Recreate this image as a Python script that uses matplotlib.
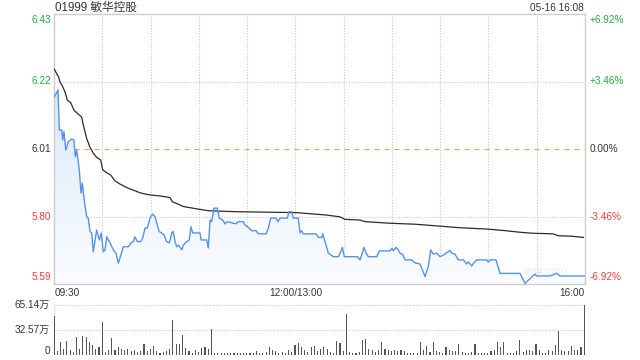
import matplotlib
matplotlib.use("Agg")
import matplotlib.pyplot as plt
import numpy as np
from matplotlib.patches import Polygon

plt.rcParams['font.family'] = ['Liberation Sans', 'Noto Sans CJK SC', 'DejaVu Sans']

# Datos (minutos desde 09:30, 12:00 y 13:00 coinciden en 150)
titulo = "01999 敏华控股"
fecha = "05-16 16:08"
cierre_previo = 6.01
precio_ticks = [6.43, 6.22, 6.01, 5.80, 5.59]
pct_ticks = ["+6.92%", "+3.46%", "0.00%", "-3.46%", "-6.92%"]
hora_labels = ["09:30", "12:00/13:00", "16:00"]

precio_min = [0, 2.5, 3.3, 4.8, 5.4, 6.2, 7.3, 8.9, 11.0, 12.4,
              13.2, 14.1, 15.7, 16.8, 17.6, 18.8, 20.3, 21.3, 22.4, 23.4,
              24.4, 26.5, 28.2, 29.4, 30.6, 31.7, 32.8, 34.8, 36.9, 38.5,
              40.0, 41.0, 43.1, 46.2, 47.9, 49.3, 50.3, 51.8, 53.9, 55.1,
              56.6, 58.0, 59.7, 61.3, 62.8, 63.8, 65.4, 66.9, 68.4, 70.0,
              71.7, 73.2, 74.1, 75.2, 76.3, 77.3, 78.3, 79.4, 80.4, 82.5,
              84.1, 85.1, 86.2, 90.7, 91.5, 94.9, 95.9, 97.0, 98.0, 99.4,
              101.5, 102.7, 104.8, 106.3, 107.7, 113.1, 114.5, 117.6, 118.7, 120.8,
              122.9, 125.5, 127.0, 131.8, 133.2, 134.7, 138.0, 139.2, 140.5, 145.0,
              146.1, 147.7, 148.7, 151.8, 152.9, 153.9, 154.9, 162.8, 164.3, 166.4,
              167.0, 168.4, 170.5, 173.6, 176.7, 178.2, 179.2, 180.4, 188.5, 190.2,
              191.6, 192.7, 193.9, 195.3, 200.6, 202.2, 208.8, 209.9, 210.9, 212.4,
              214.0, 215.0, 216.7, 218.2, 222.3, 224.4, 227.5, 230.6, 232.6, 234.1,
              235.7, 237.9, 239.9, 242.0, 244.1, 246.1, 247.2, 249.2, 251.3, 254.4,
              256.5, 257.5, 259.6, 260.6, 262.7, 268.9, 269.9, 271.0, 274.7, 277.2,
              289.6, 292.7, 294.8, 298.9, 300.0, 308.3, 312.4, 314.5, 330]
precio = [6.171, 6.194, 6.069, 6.069, 6.038, 6.064, 6.007, 6.033, 6.041, 6.038,
          5.986, 6.007, 5.945, 5.873, 5.904, 5.851, 5.799, 5.795, 5.753, 5.749,
          5.690, 5.758, 5.727, 5.749, 5.690, 5.696, 5.737, 5.718, 5.696, 5.686,
          5.655, 5.671, 5.706, 5.706, 5.718, 5.722, 5.737, 5.722, 5.722, 5.733,
          5.764, 5.764, 5.795, 5.808, 5.799, 5.780, 5.753, 5.749, 5.742, 5.722,
          5.718, 5.749, 5.753, 5.722, 5.706, 5.711, 5.705, 5.696, 5.711, 5.722,
          5.727, 5.768, 5.749, 5.749, 5.727, 5.727, 5.702, 5.789, 5.784, 5.826,
          5.826, 5.795, 5.789, 5.777, 5.784, 5.777, 5.784, 5.784, 5.774, 5.766,
          5.756, 5.756, 5.746, 5.746, 5.764, 5.795, 5.795, 5.784, 5.795, 5.795,
          5.815, 5.815, 5.795, 5.795, 5.749, 5.756, 5.746, 5.746, 5.735, 5.735,
          5.746, 5.722, 5.686, 5.675, 5.675, 5.690, 5.704, 5.675, 5.675, 5.665,
          5.686, 5.704, 5.687, 5.675, 5.675, 5.693, 5.693, 5.701, 5.693, 5.704,
          5.696, 5.686, 5.682, 5.665, 5.665, 5.656, 5.652, 5.613, 5.644, 5.696,
          5.683, 5.686, 5.675, 5.680, 5.687, 5.694, 5.686, 5.683, 5.665, 5.665,
          5.652, 5.659, 5.646, 5.654, 5.665, 5.665, 5.658, 5.665, 5.665, 5.623,
          5.623, 5.592, 5.602, 5.621, 5.615, 5.615, 5.623, 5.615, 5.615]

media_min = [0.2, 2.9, 3.7, 5.4, 6.8, 8.3, 10.4, 12.4, 14.5, 17.2,
             18.2, 20.3, 22.4, 24.4, 26.5, 29.0, 30.3, 32.8, 35.2, 37.9,
             41.0, 45.2, 50.3, 53.4, 56.6, 59.7, 65.9, 72.1, 73.5, 78.3,
             80.4, 89.7, 95.9, 112.5, 150.8, 168.4, 177.7, 180.9, 190.2, 193.3,
             208.8, 224.4, 239.9, 252.3, 268.9, 280.3, 289.6, 296.9, 310.3, 313.4,
             320.7, 329]
media = [6.258, 6.233, 6.219, 6.204, 6.188, 6.162, 6.154, 6.131, 6.121, 6.109,
         6.085, 6.043, 6.015, 5.997, 5.984, 5.976, 5.945, 5.936, 5.929, 5.911,
         5.901, 5.890, 5.880, 5.874, 5.870, 5.867, 5.864, 5.859, 5.846, 5.836,
         5.831, 5.823, 5.818, 5.815, 5.812, 5.805, 5.799, 5.791, 5.789, 5.784,
         5.779, 5.776, 5.770, 5.765, 5.761, 5.756, 5.751, 5.748, 5.746, 5.740,
         5.739, 5.735]

# Volumen (万), una barra cada 2 minutos
volumen = [50.8, 5, 17.3, 7.8, 18.6, 6.5, 4, 23.9, 7.8, 24.8,
           23.9, 17.3, 13, 7.8, 10.9, 43.4, 4, 6.5, 21.7, 6,
           10, 8, 7, 8, 5, 6, 4, 5, 14, 5,
           8, 12, 5, 3, 4, 5, 8, 45.6, 14.1, 14,
           26, 9, 5, 3, 6, 4, 9, 11, 8, 33.9,
           3, 2, 3, 2, 3, 2, 3, 2, 3, 2,
           3, 2, 3, 5, 3, 2, 4, 10, 7, 5,
           3, 4, 3, 7, 4, 13, 15, 10, 7, 4,
           10, 12, 5, 8, 10, 8, 4, 3, 18, 15,
           5, 53.4, 4, 3, 2, 4, 19, 21, 8, 7,
           4, 7, 17, 8, 7, 5, 6, 5, 6, 5,
           2, 2, 2, 3, 17, 6, 12, 4, 17, 5,
           4, 2, 10, 6, 5, 5, 14, 4, 3, 3,
           4, 14, 2, 2, 2, 2, 5, 6, 17, 10,
           17, 3, 3, 3, 5, 19, 4, 6, 7, 5,
           14, 6, 2, 3, 6, 5, 13, 31.7, 6, 5,
           5, 12, 6, 7, 11, 65.14]
vol_max = 65.14
vol_labels = ["65.14万", "32.57万", "0"]

verde = '#1fae3a'
rojo = '#f23c3c'
gris_txt = '#333333'
gris_grid = '#c8c8c8'

fig = plt.figure(figsize=(6.4, 3.6), dpi=100)
ax = fig.add_axes([54/640, 1-284/360, 531/640, 270/360])
axv = fig.add_axes([54/640, 1-355/360, 531/640, 50/360])

ax.set_xlim(0, 330)
ax.set_ylim(precio_ticks[-1], precio_ticks[0])

# Rejilla
for m in range(30, 330, 30):
    ax.axvline(m, color=gris_grid, lw=0.8, ls=(0, (1, 1.5)), zorder=1)
for p in [precio_ticks[1], precio_ticks[3]]:
    ax.axhline(p, color=gris_grid, lw=0.8, ls=(0, (1, 1.5)), zorder=1)
ax.axhline(cierre_previo, color='#f4a060', lw=0.9, ls=(0, (4, 4)), zorder=1)

# Relleno degradado bajo el precio
x = np.array(precio_min)
y = np.array(precio)
grad = np.linspace(0, 1, 256).reshape(-1, 1)
top = np.array([0.84, 0.90, 0.98])
bot = np.array([0.98, 0.99, 1.0])
img = top + (bot - top) * grad[:, :, None] ** 0.8
im = ax.imshow(img, extent=[0, 330, 5.59, 6.22], origin='upper', aspect='auto', zorder=2)
verts = np.vstack([[x[0], 5.59], np.column_stack([x, y]), [x[-1], 5.59]])
poly = Polygon(verts, closed=True, facecolor='none', edgecolor='none')
ax.add_patch(poly)
im.set_clip_path(poly)

ax.plot(precio_min, precio, color='#5592ea', lw=1.0, zorder=4)
ax.plot(media_min, media, color='#2b2b2b', lw=0.9, zorder=3)

for s in ax.spines.values():
    s.set_color('#cccccc')
    s.set_linewidth(1)
ax.set_xticks([])
ax.set_yticks([])

# Etiquetas de precio y porcentaje
colores = [verde, verde, gris_txt, rojo, rojo]
desp = [-6, 0, 0, 0, 7]
for p, pc, c, d in zip(precio_ticks, pct_ticks, colores, desp):
    ax.annotate(f"{p:.2f}", xy=(0, p), xycoords=('axes fraction', 'data'),
                xytext=(-2.2, d * 0.72), textcoords='offset points',
                ha='right', va='center', fontsize=7.2, color=c)
    ax.annotate(pc, xy=(1, p), xycoords=('axes fraction', 'data'),
                xytext=(3.6, d * 0.72), textcoords='offset points',
                ha='left', va='center', fontsize=7.2, color=c)

fig.text(55/640, 1-8/360, titulo, ha='left', va='center', fontsize=8.4, color=gris_txt)
fig.text(584/640, 1-8/360, fecha, ha='right', va='center', fontsize=7.2, color=gris_txt)

ty = 1-293/360
fig.text(55/640, ty, hora_labels[0], ha='left', va='center', fontsize=7.2, color=gris_txt)
fig.text(296/640, ty, hora_labels[1], ha='center', va='center', fontsize=7.2, color=gris_txt)
fig.text(585/640, ty, hora_labels[2], ha='right', va='center', fontsize=7.2, color=gris_txt)

ax.text(0.925, 0.03, "sina.com", transform=ax.transAxes, ha='center', va='bottom',
        fontsize=8, color='#ececec', zorder=0)

# Volumen
vx = np.arange(len(volumen)) * 2
axv.bar(vx, volumen, width=0.7, color='#555555', zorder=3)
axv.set_xlim(0, 330.5)
axv.set_ylim(0, vol_max)
axv.axhline(vol_max, color=gris_grid, lw=0.8, ls=(0, (1, 1.5)), zorder=1)
axv.axhline(vol_max / 2, color=gris_grid, lw=0.8, ls=(0, (1, 1.5)), zorder=1)
for s in axv.spines.values():
    s.set_visible(False)
axv.axvline(0, color=gris_grid, lw=0.8, ls=(0, (1, 1.5)), zorder=1)
axv.set_xticks([])
axv.set_yticks([])
for v, lab, d in zip([vol_max, vol_max / 2, 0], vol_labels, [0, 0, 4]):
    axv.annotate(lab, xy=(0, v), xycoords=('axes fraction', 'data'),
                 xytext=(-3, d * 0.72), textcoords='offset points',
                 ha='right', va='center', fontsize=7.2, color=gris_txt)

fig.savefig("out.png", dpi=100)
